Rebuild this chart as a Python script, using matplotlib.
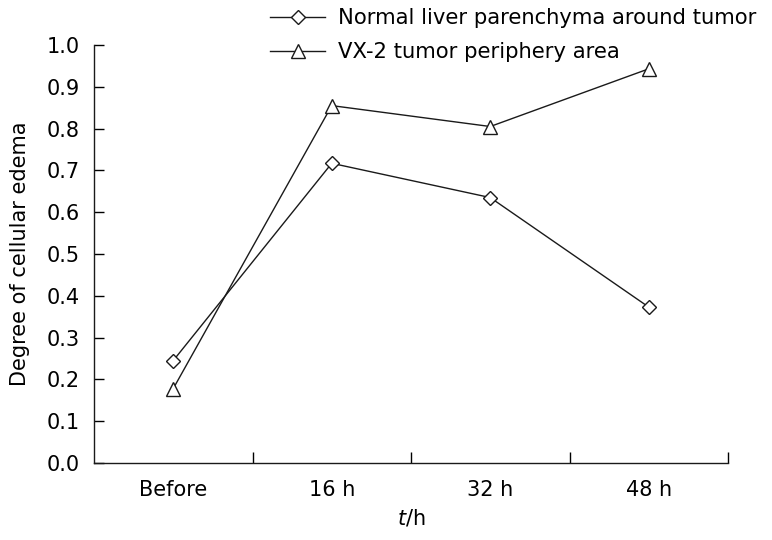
import matplotlib
matplotlib.use("Agg")
import matplotlib.pyplot as plt

categories = ["Before", "16 h", "32 h", "48 h"]
normal_liver = [0.245, 0.717, 0.635, 0.373]
vx2_periphery = [0.178, 0.855, 0.805, 0.943]
yticks = [0.0, 0.1, 0.2, 0.3, 0.4, 0.5, 0.6, 0.7, 0.8, 0.9, 1.0]

plt.rcParams['font.family'] = ['DejaVu Sans']

fig = plt.figure(figsize=(7.72, 5.40), dpi=100)
ax = fig.add_axes([94/772, 1-463/540, (728-94)/772, (463-45)/540])

x = list(range(len(categories)))
l1, = ax.plot(x, normal_liver, color='#1a1a1a', lw=1.0, marker='D', ms=7,
              mfc='white', mec='#1a1a1a', mew=1.0, label='Normal liver parenchyma around tumor')
l2, = ax.plot(x, vx2_periphery, color='#1a1a1a', lw=1.0, marker='^', ms=10,
              mfc='white', mec='#1a1a1a', mew=1.0, label='VX-2 tumor periphery area')

ax.set_xlim(-0.5, len(categories) - 0.5)
ax.set_ylim(0, 1.0)
ax.set_yticks(yticks)
ax.set_yticklabels([f"{v:.1f}" for v in yticks], fontsize=15)
ax.set_xticks(x)
ax.set_xticklabels(categories, fontsize=15)
ax.set_xticks([i + 0.5 for i in x], minor=True)
ax.tick_params(axis='x', which='major', length=0, pad=12)
ax.tick_params(axis='x', which='minor', direction='in', length=8, width=1)
ax.tick_params(axis='y', direction='in', length=7, width=1, pad=10)
for s in ['top', 'right']:
    ax.spines[s].set_visible(False)
for s in ['left', 'bottom']:
    ax.spines[s].set_linewidth(1.0)
    ax.spines[s].set_color('#1a1a1a')

ax.set_ylabel('Degree of cellular edema', fontsize=15, labelpad=12)
ax.set_xlabel('$\\mathit{t}$/h', fontsize=15, labelpad=6)

fig.legend(handles=[l1, l2], loc='upper left', bbox_to_anchor=(262/772, 1.0),
           frameon=False, fontsize=15.2, handlelength=2.6, handletextpad=0.6,
           labelspacing=0.65, borderaxespad=0.0)

fig.savefig('out.png', dpi=100)
